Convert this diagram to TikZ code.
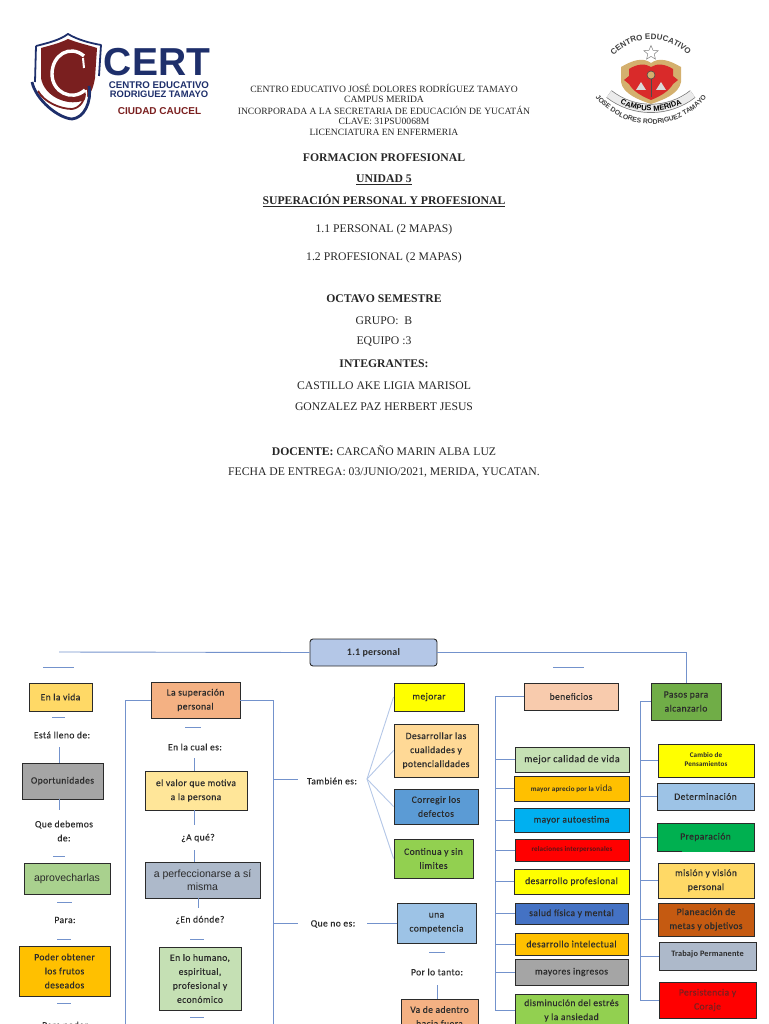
\documentclass[tikz,border=0pt]{standalone}
\usepackage{fontspec}
\usepackage{xcolor}
\usepackage{tikz}
\usetikzlibrary{shapes.geometric,decorations.text}
\setmainfont{Liberation Serif}
\newfontfamily\mapafont[LetterSpace=4,FakeBold=0.25]{Carlito}
\newfontfamily\mapbfont[LetterSpace=2]{Carlito}
\newfontfamily\arialfont{Liberation Sans}
\definecolor{ink}{HTML}{2B2B2B}
\definecolor{cLinea}{HTML}{7392CC}
\definecolor{cTenue}{HTML}{B4C7E7}
\definecolor{cNavy}{HTML}{1E2F6B}
\definecolor{cVino}{HTML}{7A1F1F}
\definecolor{cTan}{HTML}{D4B06E}
\definecolor{cCrest}{HTML}{D92A2A}
\definecolor{cAma}{HTML}{FFD966}
\definecolor{cGris}{HTML}{A5A5A5}
\definecolor{cVerdeC}{HTML}{A9D18E}
\definecolor{cOro}{HTML}{FFC000}
\definecolor{cSalmon}{HTML}{F4B183}
\definecolor{cCrema}{HTML}{FFE699}
\definecolor{cAcero}{HTML}{ADB9CA}
\definecolor{cMenta}{HTML}{C5E0B4}
\definecolor{cRaiz}{HTML}{B4C7E7}
\definecolor{cLimon}{HTML}{FFFF00}
\definecolor{cCanela}{HTML}{FFD996}
\definecolor{cAzul}{HTML}{5B9BD5}
\definecolor{cPasto}{HTML}{92D050}
\definecolor{cCielo}{HTML}{9DC3E6}
\definecolor{cPiel}{HTML}{F8CBAD}
\definecolor{cHoja}{HTML}{70AD47}
\definecolor{cTurq}{HTML}{00B0F0}
\definecolor{cRojo}{HTML}{FF0000}
\definecolor{cRey}{HTML}{4472C4}
\definecolor{cBosque}{HTML}{00B050}
\definecolor{cCobre}{HTML}{C55A11}
\tikzset{
  cab/.style   = {align=center, inner sep=0pt, text=black!85, font=\fontsize{11.7}{14}\selectfont},
  cabs/.style  = {cab, font=\fontsize{9.6}{11}\selectfont},
  caja/.style  = {draw=ink, line width=0.9pt, inner sep=0pt, align=center, text=ink,
                  font=\mapafont\fontsize{9.6}{14}\selectfont},
  etq/.style   = {inner sep=0pt, align=center, text=ink, font=\mapafont\fontsize{9.6}{14}\selectfont},
  chica/.style = {font=\mapbfont\bfseries\fontsize{7.1}{11}\selectfont},
  lin/.style   = {draw=cLinea, line width=0.9pt},
  tenue/.style = {draw=cTenue, line width=0.9pt},
  logo/.style  = {inner sep=0pt, font=\arialfont\bfseries},
}
\begin{document}
\begin{tikzpicture}[x=1pt,y=-1pt]
  \useasboundingbox (0,0) rectangle (768,1024);
  \clip (0,0) rectangle (768,1024);

  % logo izquierdo
  \fill[cVino] (41,48) .. controls (52,45) and (60,43) .. (68,39) .. controls (78,43) and (88,45) .. (97,48)
    -- (95,78) .. controls (93,90) and (90,96) .. (82,101) .. controls (66,106) and (44,96) .. (41,78) -- cycle;
  \draw[cNavy, line width=1.8pt, line join=round] (36,46) .. controls (48,43) and (60,40) .. (68,34) .. controls (78,40) and (90,43) .. (101,45)
    -- (99,76);
  \draw[cNavy, line width=1.8pt] (36,46) -- (35,82);
  \draw[white, line width=3.4pt] (84,56) .. controls (70,44) and (52,55) .. (52,74) .. controls (52,92) and (72,102) .. (85,90);
  \draw[white, line width=2pt] (83,58) -- (84,68);
  \draw[cNavy, line width=2.8pt] (32,82) .. controls (36,100) and (58,118) .. (72,119) .. controls (84,118) and (92,102) .. (89,86);
  \draw[white, line width=1.6pt] (36,86) .. controls (42,100) and (60,112) .. (72,113) .. controls (82,112) and (88,100) .. (86,90);
  \draw[cVino, line width=1.8pt] (38,91) .. controls (44,102) and (60,109) .. (72,109) .. controls (80,108) and (85,100) .. (85,94);
  \node[logo, text=cNavy, font=\arialfont\bfseries\fontsize{39}{39}\selectfont] (cert) at (157,62) {CERT};
  \node[logo, text=cNavy, font=\arialfont\bfseries\fontsize{9.7}{10}\selectfont] (centro) at (159,85) {CENTRO EDUCATIVO};
  \node[logo, text=cNavy, font=\arialfont\bfseries\fontsize{9.4}{10}\selectfont] (rodri) at (159,94.5) {RODRIGUEZ TAMAYO};
  \node[logo, text=cVino, font=\arialfont\bfseries\fontsize{10}{10}\selectfont] (caucel) at (159.5,111) {CIUDAD CAUCEL};

  % escudo derecho
  \begin{scope}[shift={(651,80)},x=1pt,y=1pt]
    \fill[cTan] (0,17) .. controls (-8,23) and (-18,20) .. (-30,13) -- (-30,-2) .. controls (-28,-14) and (-12,-20) .. (0,-24)
      .. controls (12,-20) and (28,-14) .. (30,-2) -- (30,13) .. controls (18,20) and (8,23) .. (0,17) -- cycle;
    \fill[cCrest] (0,13) .. controls (-6,17) and (-14,16) .. (-22,11) -- (-22,4) -- (-27,0) -- (-22,-4) .. controls (-18,-11) and (-10,-16) .. (0,-20)
      .. controls (10,-16) and (18,-11) .. (22,-4) -- (27,0) -- (22,4) -- (22,11) .. controls (14,16) and (6,17) .. (0,13) -- cycle;
    \fill[white!85!black] (-15,-10) -- (-10,-2) -- (-5,-10) -- cycle (5,-10) -- (10,-2) -- (15,-10) -- cycle;
    \draw[black!70, line width=0.8pt] (0,7) -- (0,-17);
    \draw[black!70, fill=cTan, line width=0.6pt] (0,5) circle (4pt);
    \node[star, star points=5, star point ratio=2.2, draw=black!50, fill=white, line width=0.5pt, inner sep=0pt, minimum size=15pt] (estrella) at (0,27) {};
    \draw[black!55, line width=9pt] (-42,-14) arc[start angle=232,end angle=308,radius=68pt];
    \draw[white!92!black, line width=7.6pt] (-42,-14) arc[start angle=232,end angle=308,radius=68pt];
    \path[decorate, decoration={text along path, text align=center, text={|\arialfont\bfseries\fontsize{7.5}{8}\selectfont|CAMPUS MERIDA}}]
      (-37.6,-20.2) arc[start angle=238,end angle=302,radius=71pt];
    \path[decorate, decoration={text along path, text align=center, text={|\arialfont\bfseries\fontsize{8}{9}\selectfont\color{black!75}|CENTRO EDUCATIVO}}]
      (-42,19) arc[start angle=145,end angle=35,radius=51pt];
    \path[decorate, decoration={text along path, text align=center, text={|\arialfont\bfseries\fontsize{6.8}{8}\selectfont\color{black!75}|JOSE DOLORES RODRIGUEZ TAMAYO}}]
      (-60.2,-10.6) arc[start angle=212,end angle=328,radius=71pt];
  \end{scope}

  % encabezado
  \node[cabs] (c1) at (384,88) {CENTRO EDUCATIVO JOSÉ DOLORES RODRÍGUEZ TAMAYO};
  \node[cabs] (c2) at (384,99) {CAMPUS MERIDA};
  \node[cabs] (c3) at (384,110) {INCORPORADA A LA SECRETARIA DE EDUCACIÓN DE YUCATÁN};
  \node[cabs] (c4) at (384,121) {CLAVE: 31PSU0068M};
  \node[cabs] (c5) at (384,132) {LICENCIATURA EN ENFERMERIA};
  \node[cab] (t1) at (384,158) {\bfseries FORMACION PROFESIONAL};
  \node[cab] (t2) at (384,180) {\bfseries\underline{UNIDAD 5}};
  \node[cab] (t3) at (384,201) {\bfseries\underline{SUPERACIÓN PERSONAL Y PROFESIONAL}};
  \node[cab] (t4) at (384,229.5) {1.1 PERSONAL (2 MAPAS)};
  \node[cab] (t5) at (384,257.5) {1.2 PROFESIONAL (2 MAPAS)};
  \node[cab] (t6) at (384,299) {\bfseries OCTAVO SEMESTRE};
  \node[cab] (t7) at (384,321) {GRUPO:\ \ B};
  \node[cab] (t8) at (384,342) {EQUIPO :3};
  \node[cab] (t9) at (384,364) {\bfseries INTEGRANTES:};
  \node[cab] (t10) at (384,386) {CASTILLO AKE LIGIA MARISOL};
  \node[cab] (t11) at (384,407) {GONZALEZ PAZ HERBERT JESUS};
  \node[cab] (t12) at (384,450.5) {\textbf{DOCENTE:} CARCAÑO MARIN ALBA LUZ};
  \node[cab] (t13) at (384,473) {FECHA DE ENTREGA: 03/JUNIO/2021, MERIDA, YUCATAN.};

  % mapa: raiz
  \node[caja, fill=cRaiz, rounded corners=3pt, minimum width=127pt, minimum height=27pt, font=\mapbfont\bfseries\fontsize{10}{12}\selectfont] (raiz) at (373.5,652.5) {1.1 personal};

  % columna 1
  \node[caja, fill=cAma, minimum width=63pt, minimum height=28pt] (vida) at (60.5,697) {En la vida};
  \node[etq] (lleno) at (62,735) {Está lleno de:};
  \node[caja, fill=cGris, minimum width=81pt, minimum height=36pt] (opor) at (62.5,781) {Oportunidades};
  \node[etq] (debe) at (64,831) {Que debemos\\de:};
  \node[caja, fill=cVerdeC, minimum width=86pt, minimum height=31pt, font=\arialfont\fontsize{10.5}{13}\selectfont] (apro) at (67,878.5) {aprovecharlas};
  \node[etq] (para) at (65,920) {Para:};
  \node[caja, fill=cOro, minimum width=91pt, minimum height=50pt] (frut) at (64.5,971) {Poder obtener\\los frutos\\deseados};
  \node[etq, anchor=north] (poder) at (65,1021.5) {Para poder};

  % columna 2
  \node[caja, fill=cSalmon, minimum width=89pt, minimum height=36pt] (sup) at (195.5,700) {La superación\\personal};
  \node[etq] (cual) at (195,747) {En la cual es:};
  \node[caja, fill=cCrema, minimum width=102pt, minimum height=39pt] (valor) at (196,790.5) {el valor que motiva\\a la persona};
  \node[etq] (aque) at (198,838) {¿A qué?};
  \node[caja, fill=cAcero, minimum width=115pt, minimum height=36pt, font=\arialfont\fontsize{10.5}{13}\selectfont] (perf) at (202.5,880) {a perfeccionarse a sí\\misma};
  \node[etq] (donde) at (200,920) {¿En dónde?};
  \node[caja, fill=cMenta, minimum width=82pt, minimum height=63pt] (huma) at (200,978.5) {En lo humano,\\espiritual,\\profesional y\\económico};

  % columna 3
  \node[etq] (tamb) at (332,781) {También es:};
  \node[etq] (queno) at (333,924) {Que no es:};
  \node[caja, fill=cLimon, minimum width=70pt, minimum height=28pt] (mej) at (429,697) {mejorar};
  \node[caja, fill=cCanela, minimum width=84pt, minimum height=53pt] (des) at (436,750.5) {Desarrollar las\\cualidades y\\potencialidades};
  \node[caja, fill=cAzul, minimum width=84pt, minimum height=35pt] (cor) at (436,806.5) {Corregir los\\defectos};
  \node[caja, fill=cPasto, minimum width=79pt, minimum height=39pt] (con) at (433.5,858.5) {Continua y sin\\limites};
  \node[caja, fill=cCielo, minimum width=79pt, minimum height=40pt] (comp) at (436.5,923) {una\\competencia};
  \node[etq] (tanto) at (437,972) {Por lo tanto:};
  \node[caja, fill=cSalmon, minimum width=77pt, minimum height=35pt] (aden) at (439.5,1016.5) {Va de adentro\\hacia fuera};

  % columna 4
  \node[caja, fill=cPiel, minimum width=94pt, minimum height=27pt] (ben) at (571,696.5) {beneficios};
  \node[caja, fill=cMenta, minimum width=114pt, minimum height=25pt, font=\mapafont\fontsize{10.2}{12}\selectfont] (cal) at (572,759.5) {mejor calidad de vida};
  \node[caja, fill=cOro, minimum width=115pt, minimum height=25pt, chica] (apr) at (571.5,788.5) {mayor aprecio por la {\fontsize{9.5}{12}\selectfont\mdseries vida}};
  \node[caja, fill=cTurq, minimum width=115pt, minimum height=24pt] (aut) at (571.5,820) {mayor autoestima};
  \node[caja, fill=cRojo, minimum width=114pt, minimum height=22pt, chica, text=cVino!70!black] (rel) at (572,850) {relaciones interpersonales};
  \node[caja, fill=cLimon, minimum width=115pt, minimum height=25pt] (pro) at (571.5,881.5) {desarrollo profesional};
  \node[caja, fill=cRey, minimum width=113pt, minimum height=21pt] (sal) at (571.5,913.5) {salud física y mental};
  \node[caja, fill=cOro, minimum width=113pt, minimum height=22pt] (int) at (571.5,944) {desarrollo intelectual};
  \node[caja, fill=cGris, minimum width=113pt, minimum height=26pt] (ing) at (571.5,972) {mayores ingresos};
  \node[caja, fill=cPasto, minimum width=113pt, minimum height=33pt] (dis) at (571.5,1010.5) {disminución del estrés\\y la ansiedad};

  % columna 5
  \node[caja, fill=cHoja, minimum width=70pt, minimum height=37pt] (pas) at (686,701.5) {Pasos para\\alcanzarlo};
  \node[caja, fill=cLimon, minimum width=96pt, minimum height=33pt, chica] (cam) at (706,760.5) {\raisebox{2pt}{\shortstack{Cambio de\\[1pt]Pensamientos}}};
  \node[caja, fill=cCielo, minimum width=97pt, minimum height=27pt] (det) at (705.5,796.5) {Determinación};
  \node[caja, fill=cBosque, minimum width=97pt, minimum height=28pt] (pre) at (705.5,837) {Preparación};
  \node[caja, fill=cAma, minimum width=96pt, minimum height=35pt] (mis) at (706,880.5) {misión y visión\\personal};
  \node[caja, fill=cCobre, minimum width=96pt, minimum height=33pt] (pla) at (706,919.5) {Planeación de\\metas y objetivos};
  \node[caja, fill=cAcero, minimum width=97pt, minimum height=28pt, font=\mapbfont\bfseries\fontsize{8.3}{12}\selectfont] (tra) at (707.5,956) {\raisebox{4pt}{Trabajo Permanente}};
  \node[caja, fill=cRojo, minimum width=97pt, minimum height=36pt, text=cVino] (per) at (707.5,1000) {Persistencia y\\Coraje};
  \coordinate (gapa) at (682,851);
  \coordinate (gapb) at (730,851);
  \draw[cBosque, line width=1pt] (gapa) -- (gapb);

  % conectores
  \coordinate (izq) at (59,652);
  \coordinate (bsi) at (125,1030);
  \coordinate (bsd) at (273,1030);
  \coordinate (bbe) at (495,1010.5);
  \coordinate (bpa) at (640,1000);
  \coordinate (fan) at (367,779);
  \coordinate (tam) at (298,779);
  \coordinate (nos) at (298,923);
  \coordinate (nod) at (367,923);
  \draw[lin] (raiz.west) -- (izq);
  \draw[lin] (raiz.east) -| (pas.north);
  \draw[lin] (sup.west) -| (bsi);
  \draw[lin] (sup.east) -| (bsd);
  \draw[lin] (bsd |- tam) -- (tam);
  \draw[lin] (bsd |- nos) -- (nos);
  \draw[lin] (nod) -- (comp.west);
  \foreach \dst in {mej,des,cor,con} {
    \draw[tenue] (fan) -- (\dst.west);
  }
  \draw[lin] (ben.west) -| (bbe) -- (dis.west);
  \foreach \dst in {cal,apr,aut,rel,pro,sal,int,ing} {
    \draw[lin] (bbe |- \dst.west) -- (\dst.west);
  }
  \draw[lin] (pas.west) -| (bpa) -- (per.west);
  \foreach \dst in {cam,det,pre,mis,pla,tra} {
    \draw[lin] (bpa |- \dst.west) -- (\dst.west);
  }

  % trazos cortos verticales
  \foreach \nm/\xx/\ya/\yb in {a/59/747/763, b/59/799/810, c/194/758/771, d/194/810/825, e/194/850/862, f/198/898/908, g/437/985/999} {
    \coordinate (v\nm a) at (\xx,\ya);
    \coordinate (v\nm b) at (\xx,\yb);
    \draw[lin] (v\nm a) -- (v\nm b);
  }
  % trazos cortos horizontales
  \foreach \nm/\xa/\xb/\yy in {a/43/74/667, b/52/65/717, c/53/65/856, d/57/72/902, e/57/71/939, f/57/71/1003, g/185/201/727, h/190/204/939, i/190/204/1017, j/429/445/952, k/553/584/667} {
    \coordinate (h\nm a) at (\xa,\yy);
    \coordinate (h\nm b) at (\xb,\yy);
    \draw[lin] (h\nm a) -- (h\nm b);
  }
\end{tikzpicture}
\end{document}
